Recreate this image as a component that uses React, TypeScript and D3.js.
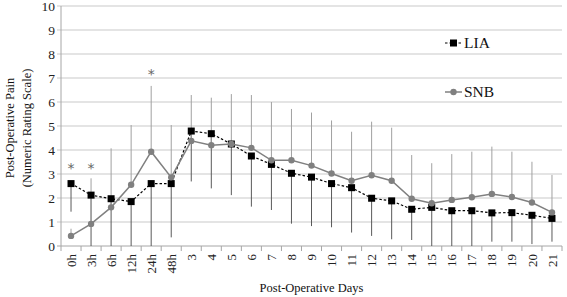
import React from "react";
import * as d3 from "d3";

const categories = ["0h","3h","6h","12h","24h","48h","3","4","5","6","7","8","9","10","11","12","13","14","15","16","17","18","19","20","21"];
const liaValues = [2.6,2.12,1.97,1.85,2.6,2.6,4.79,4.68,4.25,3.75,3.4,3.03,2.87,2.6,2.43,1.99,1.88,1.53,1.61,1.47,1.47,1.38,1.39,1.28,1.15];
const liaErr = [1.17,2.3,2.2,2.1,2.8,2.24,2.1,2.28,2.13,2.11,1.9,2.1,2.04,1.82,1.87,1.57,1.6,1.28,1.7,1.6,1.6,1.2,1.21,1.2,0.97];
const snbValues = [0.42,0.92,1.61,2.55,3.93,2.86,4.38,4.2,4.25,4.09,3.57,3.57,3.35,3.02,2.72,2.95,2.72,1.97,1.78,1.92,2.03,2.17,2.04,1.81,1.4];
const snbErr = [0.3,1.9,2.46,2.49,2.74,2.18,1.91,1.98,2.08,2.2,2.43,2.14,2.21,2.21,2.04,2.23,2.21,1.82,1.67,1.91,1.9,1.97,1.89,1.7,1.56];
const yTicks = [0,1,2,3,4,5,6,7,8,9,10];
const asterisks = [
  { cat: "0h", value: 3.35 },
  { cat: "3h", value: 3.35 },
  { cat: "24h", value: 7.3 },
];

const FONT = "'Liberation Serif', 'Times New Roman', serif";

export default function App() {
  const W = 567, H = 297;
  const left = 61, right = 562, top = 6, bottom = 246;
  const x = d3.scaleBand<string>().domain(categories).range([left, right]).padding(0);
  const y = d3.scaleLinear().domain([0, 10]).range([bottom, top]);
  const cx = (c: string) => (x(c) as number) + x.bandwidth() / 2;

  const liaLine = d3.line<number>().x((_, i) => cx(categories[i])).y((v) => y(v));
  const snbLine = d3.line<number>().x((_, i) => cx(categories[i])).y((v) => y(v));

  const boundaries = d3.range(categories.length + 1).map((i) => left + i * x.bandwidth());

  return (
    <svg width={W} height={H} style={{ position: "absolute", left: 0, top: 0, background: "#fff" }} fontFamily={FONT}>
      {yTicks.map((t) => (
        <g key={t}>
          <line x1={left - 4} x2={right} y1={y(t)} y2={y(t)} stroke={t === 0 ? "#a6a6a6" : "#c9c9c9"} strokeWidth={1} />
          <text x={55} y={y(t)} dy="0.35em" textAnchor="end" fontSize={13.5} fill="#222">{t}</text>
        </g>
      ))}
      <line x1={left} x2={left} y1={top} y2={bottom} stroke="#a6a6a6" strokeWidth={1} />
      {boundaries.map((b, i) => (
        <line key={i} x1={b} x2={b} y1={bottom} y2={bottom + 5} stroke="#a6a6a6" strokeWidth={1} />
      ))}
      {categories.map((c) => (
        <text key={c} transform={`translate(${cx(c)},${254}) rotate(-90)`} textAnchor="end" dy="0.35em" fontSize={13} fill="#222">{c}</text>
      ))}
      {categories.map((c, i) => (
        <g key={"e" + c}>
          <line x1={cx(c)} x2={cx(c)} y1={y(liaValues[i])} y2={y(Math.max(0, liaValues[i] - liaErr[i]))} stroke="#595959" strokeWidth={1} />
          <line x1={cx(c)} x2={cx(c)} y1={y(snbValues[i])} y2={y(Math.min(10, snbValues[i] + snbErr[i]))} stroke="#a0a0a0" strokeWidth={1} />
        </g>
      ))}
      <path d={liaLine(liaValues) || ""} fill="none" stroke="#000" strokeWidth={1.2} strokeDasharray="2.5,2" />
      {liaValues.map((v, i) => (
        <rect key={"l" + i} x={cx(categories[i]) - 3.5} y={y(v) - 3.5} width={7} height={7} fill="#000" />
      ))}
      <path d={snbLine(snbValues) || ""} fill="none" stroke="#808080" strokeWidth={1.5} />
      {snbValues.map((v, i) => (
        <circle key={"s" + i} cx={cx(categories[i])} cy={y(v)} r={3.2} fill="#808080" />
      ))}
      {asterisks.map((a, i) => (
        <text key={"a" + i} x={cx(a.cat)} y={y(a.value)} dy="0.55em" textAnchor="middle" fontSize={14} fontFamily="'DejaVu Sans', sans-serif" fill="#666">*</text>
      ))}
      <line x1={445} x2={462} y1={43} y2={43} stroke="#000" strokeWidth={1.2} strokeDasharray="2.5,2" />
      <rect x={450} y={39.5} width={7} height={7} fill="#000" />
      <text x={464} y={43} dy="0.35em" fontSize={15.5} fill="#111">LIA</text>
      <line x1={445} x2={462} y1={92} y2={92} stroke="#808080" strokeWidth={1.5} />
      <circle cx={453.5} cy={92} r={3.2} fill="#808080" />
      <text x={464} y={92} dy="0.35em" fontSize={15.5} fill="#111">SNB</text>
      <text x={(left + right) / 2} y={292} textAnchor="middle" fontSize={12.5} fill="#111">Post-Operative Days</text>
      <text transform={`translate(14,128) rotate(-90)`} textAnchor="middle" fontSize={12.5} fill="#111">Post-Operative Pain</text>
      <text transform={`translate(31,128) rotate(-90)`} textAnchor="middle" fontSize={12.5} fill="#111">(Numeric Rating Scale)</text>
    </svg>
  );
}
